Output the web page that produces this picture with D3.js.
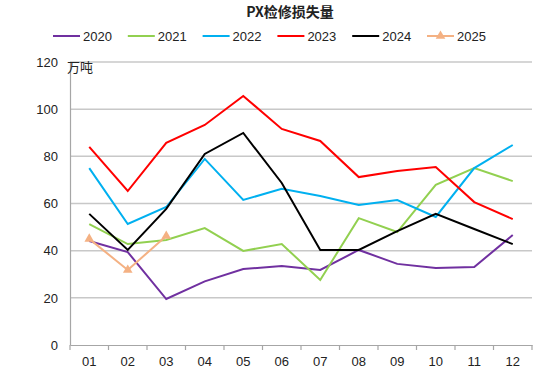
<!DOCTYPE html>
<html><head><meta charset="utf-8">
<script src="https://cdn.jsdelivr.net/npm/d3@7"></script>
<style>body{margin:0;background:#fff}svg{display:block}</style>
</head><body>
<script>
const months = ["01","02","03","04","05","06","07","08","09","10","11","12"];
const years = ["2020","2021","2022","2023","2024","2025"];
const colors = ["#7030A0","#92D050","#00B0F0","#FF0000","#000000","#F4B183"];
const v2020 = [44.1,39.4,19.5,27,32.2,33.5,31.8,40.3,34.4,32.6,33.1,46.6];
const v2021 = [51.3,42.8,44.5,49.6,39.9,42.8,27.6,53.8,47.9,67.9,75,69.5];
const v2022 = [75,51.3,58.5,78.9,61.5,66.2,63.2,59.4,61.5,54.3,75,84.8];
const v2023 = [84,65.3,85.7,93.3,105.6,91.6,86.5,71.2,73.8,75.5,60.6,53.4];
const v2024 = [55.6,40.3,57.7,81,89.9,68.7,40.3,40.3,48.3,55.6,49.2,42.8];
const v2025 = [45,31.8,46.2];
const yTicks = [0,20,40,60,80,100,120];
const series = [v2020,v2021,v2022,v2023,v2024,v2025];

const W=550,H=381;
const svg=d3.select("body").append("svg").attr("width",W).attr("height",H)
  .style("font-family","'Liberation Sans', Arial, sans-serif");
const pLeft=70,pRight=532,pTop=62,pBottom=345;
const x=d3.scaleBand().domain(months).range([pLeft,pRight]);
const y=d3.scaleLinear().domain([0,120]).range([pBottom,pTop]);

// gridlines
svg.append("g").selectAll("line").data(yTicks.filter(d=>d>0)).join("line")
  .attr("x1",pLeft).attr("x2",pRight).attr("y1",d=>y(d)).attr("y2",d=>y(d))
  .attr("stroke","#C8C8C8").attr("stroke-width",1.5);

// y axis
const ya=svg.append("g").attr("transform",`translate(${pLeft},0)`)
  .call(d3.axisLeft(y).tickValues(yTicks).tickSize(0).tickPadding(12));
ya.select(".domain").attr("stroke","#A6A6A6").attr("stroke-width",1.2);
ya.selectAll("text").attr("font-size",13).attr("fill","#222")
  .style("font-family","'Liberation Sans', Arial, sans-serif");

// x axis
const xa=svg.append("g").attr("transform",`translate(0,${pBottom})`)
  .call(d3.axisBottom(x).tickSize(0).tickPadding(12));
xa.select(".domain").attr("stroke","#A6A6A6").attr("stroke-width",1.2);
xa.selectAll("text").attr("font-size",13).attr("fill","#222")
  .style("font-family","'Liberation Sans', Arial, sans-serif");
// boundary tick marks
const bounds=months.map(m=>x(m)).concat([pRight]);
svg.append("g").selectAll("line").data(bounds).join("line")
  .attr("x1",d=>d).attr("x2",d=>d).attr("y1",pBottom).attr("y2",pBottom+5)
  .attr("stroke","#A6A6A6").attr("stroke-width",1.2);

// unit label
svg.append("text").attr("x",67).attr("y",72).attr("font-size",13).attr("fill","#222")
  .style("font-family","'Noto Sans CJK SC', sans-serif").text("万吨");

// lines
const line=d3.line().x((d,i)=>x(months[i])+x.bandwidth()/2).y(d=>y(d));
series.forEach((s,k)=>{
  svg.append("path").datum(s).attr("d",line).attr("fill","none")
    .attr("stroke",colors[k]).attr("stroke-width",2).attr("stroke-linejoin","miter");
});
// 2025 markers
const tri=d3.symbol().type(d3.symbolTriangle).size(40);
svg.append("g").selectAll("path").data(v2025).join("path")
  .attr("d",tri).attr("fill",colors[5])
  .attr("transform",(d,i)=>`translate(${x(months[i])+x.bandwidth()/2},${y(d)})`);

// title
svg.append("text").attr("x",290).attr("y",17).attr("text-anchor","middle")
  .attr("font-size",14).attr("font-weight","bold").attr("fill","#222")
  .style("font-family","'Noto Sans CJK SC', sans-serif").text("PX检修损失量");

// legend
const lg=svg.append("g");
years.forEach((yr,i)=>{
  const lx=53+i*74.8, ly=36;
  lg.append("line").attr("x1",lx).attr("x2",lx+27).attr("y1",ly).attr("y2",ly)
    .attr("stroke",colors[i]).attr("stroke-width",2);
  if(i===5) lg.append("path").attr("d",tri).attr("fill",colors[5]).attr("transform",`translate(${lx+13.5},${ly})`);
  lg.append("text").attr("x",lx+30).attr("y",ly+4.5).attr("font-size",13).attr("fill","#222")
    .style("font-family","'Liberation Sans', Arial, sans-serif").text(yr);
});
</script>
</body></html>
